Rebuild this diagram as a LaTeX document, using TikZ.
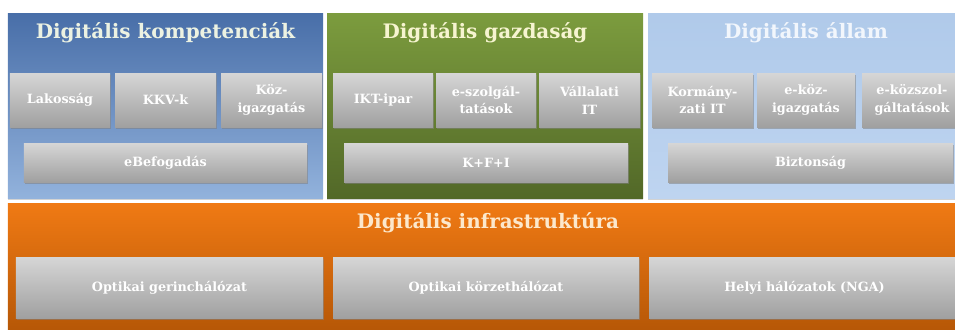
\documentclass[tikz,border=0pt]{standalone}
\usepackage{fontspec}
\setmainfont{DejaVu Serif}
\usetikzlibrary{shadows}

\definecolor{bluetop}{RGB}{72,110,168}
\definecolor{bluebot}{RGB}{146,178,220}
\definecolor{greentop}{RGB}{124,156,62}
\definecolor{greenbot}{RGB}{82,104,40}
\definecolor{skytop}{RGB}{176,202,234}
\definecolor{skybot}{RGB}{190,212,240}
\definecolor{orangetop}{RGB}{240,122,20}
\definecolor{orangebot}{RGB}{180,86,6}
\definecolor{boxtop}{RGB}{214,214,214}
\definecolor{boxbot}{RGB}{160,160,160}

\tikzset{
  panel/.style={rectangle, inner sep=0pt, draw=none,
    drop shadow={shadow xshift=0bp, shadow yshift=-1.5bp, opacity=.35}},
  headline/.style={font=\bfseries\fontsize{20}{22}\selectfont},
  tile/.style={rectangle, inner sep=0pt, align=center, text=white,
    top color=boxtop, bottom color=boxbot,
    font=\bfseries\fontsize{12.8}{18}\selectfont,
    drop shadow={shadow xshift=1bp, shadow yshift=-2bp, opacity=.55}},
}

\begin{document}
\begin{tikzpicture}[x=1bp,y=-1bp]
  \useasboundingbox (0,0) rectangle (955,329);
  \clip (0,0) rectangle (955,329);
  % Panel: kompetenciak
  \node [panel, top color=bluetop, bottom color=bluebot,
    minimum width=315bp, minimum height=185bp] (komp) at (165.5,105.5) {};
  % Panel: gazdasag
  \node [panel, top color=greentop, bottom color=greenbot,
    minimum width=316bp, minimum height=185bp] (gazd) at (485,105.5) {};
  % Panel: allam
  \node [panel, top color=skytop, bottom color=skybot,
    minimum width=312bp, minimum height=185bp] (allam) at (804,105.5) {};
  % Panel: infrastruktura
  \node [panel, top color=orangetop, bottom color=orangebot,
    minimum width=952bp, minimum height=132bp] (infra) at (484,269) {};
%%
  % Titles
  \node [headline, text={rgb,255:red,236;green,242;blue,226}] (kompT) at (165.5,33) {Digitális kompetenciák};
  \node [headline, text={rgb,255:red,246;green,244;blue,208}] (gazdT) at (485,33) {Digitális gazdaság};
  \node [headline, text={rgb,255:red,242;green,246;blue,252}] (allamT) at (806,33) {Digitális állam};
  \node [headline, text={rgb,255:red,252;green,232;blue,204}] (infraT) at (488,223) {Digitális infrastruktúra};
%%
  % Tiles: kompetenciak
  \node [tile, minimum width=100bp, minimum height=54bp] (lakos) at (60,100) {Lakosság};
  \node [tile, minimum width=101bp, minimum height=54bp] (kkv) at (165.5,100) {KKV-k};
  \node [tile, minimum width=101bp, minimum height=54bp] (koz) at (271.5,100) {Köz-\\igazgatás};
  \node [tile, minimum width=283bp, minimum height=39bp] (ebef) at (165.5,162.5) {eBefogadás};
  % Tiles: gazdasag
  \node [tile, minimum width=100bp, minimum height=54bp] (ikt) at (383,100) {IKT-ipar};
  \node [tile, minimum width=100bp, minimum height=54bp] (eszolg) at (486,100) {e-szolgál-\\tatások};
  \node [tile, minimum width=101bp, minimum height=54bp] (vall) at (589.5,100) {Vállalati\\IT};
  \node [tile, minimum width=284bp, minimum height=39bp] (kfi) at (486,162.5) {K+F+I};
  % Tiles: allam
  \node [tile, minimum width=101bp, minimum height=54bp] (korm) at (702.5,100) {Kormány-\\zati IT};
  \node [tile, minimum width=98bp, minimum height=54bp] (ekoz) at (806,100) {e-köz-\\igazgatás};
  \node [tile, minimum width=100bp, minimum height=54bp] (ekozsz) at (912,100) {e-közszol-\\gáltatások};
  \node [tile, minimum width=285bp, minimum height=39bp] (bizt) at (810.5,162.5) {Biztonság};
  % Tiles: infrastruktura
  \node [tile, minimum width=307bp, minimum height=61bp] (gerinc) at (169.5,287.5) {Optikai gerinchálózat};
  \node [tile, minimum width=306bp, minimum height=61bp] (korzet) at (486,287.5) {Optikai körzethálózat};
  \node [tile, minimum width=311bp, minimum height=61bp] (helyi) at (804.5,287.5) {Helyi hálózatok (NGA)};
%
\end{tikzpicture}
\end{document}
